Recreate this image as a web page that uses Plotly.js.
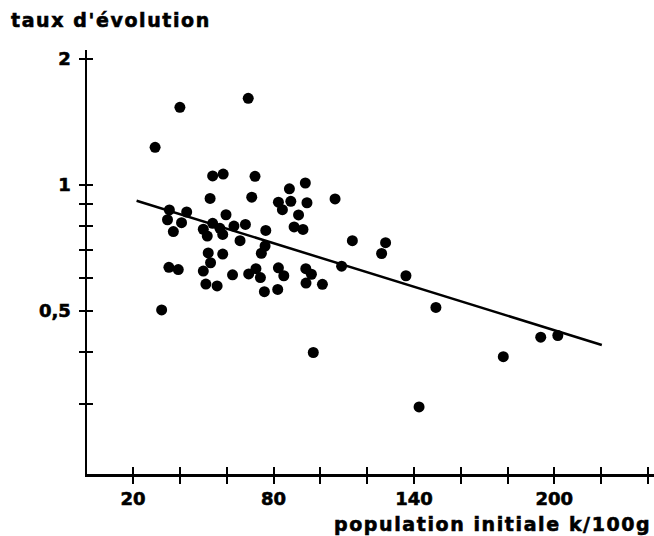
<!DOCTYPE html>
<html>
<head>
<meta charset="utf-8">
<script src="https://cdn.plot.ly/plotly-3.0.1.min.js"></script>
<style>
html,body{margin:0;padding:0;background:#fff;}
.annotation-text{letter-spacing:1.6px;}
.xtick text, .ytick text, .annotation-text{stroke:#000;stroke-width:0.6px;}
</style>
</head>
<body>
<div id="chart" style="width:654px;height:536px;"></div>
<script>
// Scatter points: initial population (k/100 g) vs. rate of change (taux d'évolution)
const popInitiale = [69.2, 40.0, 29.4, 54.0, 58.5, 72.1, 86.8, 93.6, 106.3, 52.9,
  70.7, 82.1, 87.4, 83.8, 94.3, 90.7, 88.8, 92.6, 35.5, 42.9,
  34.7, 40.7, 37.2, 59.7, 50.0, 54.0, 51.7, 57.1, 58.3, 63.1,
  68.0, 65.7, 76.7, 76.4, 74.8, 52.1, 58.3, 53.1, 50.0, 35.3,
  39.3, 62.5, 69.4, 72.5, 74.4, 82.1, 84.4, 93.8, 96.2, 93.9,
  100.9, 76.1, 81.8, 51.1, 55.9, 32.2, 113.7, 127.9, 126.2, 109.1,
  136.6, 149.4, 97.0, 142.2, 178.2, 194.2, 201.5];
const tauxEvolution = [1.611, 1.533, 1.230, 1.051, 1.062, 1.049, 0.979, 1.011, 0.926, 0.929,
  0.935, 0.910, 0.914, 0.873, 0.907, 0.848, 0.794, 0.783, 0.872, 0.862,
  0.826, 0.813, 0.774, 0.849, 0.784, 0.810, 0.755, 0.788, 0.762, 0.798,
  0.805, 0.736, 0.779, 0.715, 0.687, 0.688, 0.684, 0.652, 0.623, 0.636,
  0.628, 0.610, 0.613, 0.631, 0.601, 0.634, 0.607, 0.631, 0.612, 0.583,
  0.579, 0.556, 0.563, 0.580, 0.574, 0.503, 0.736, 0.728, 0.686, 0.640,
  0.607, 0.510, 0.398, 0.295, 0.389, 0.433, 0.437];
// Regression line end points
const droiteX = [21.5, 220.3];
const droiteY = [0.917, 0.4147];
// Axis ticks
const xTickVals = [20, 40, 60, 80, 100, 120, 140, 160, 180, 200, 220, 240];
const xTickText = ['20', '', '', '80', '', '', '140', '', '', '200', '', ''];
const yTickVals = [0.3, 0.4, 0.5, 0.6, 0.7, 0.8, 0.9, 1, 2];
const yTickText = ['', '', '0,5', '', '', '', '', '1', '2'];

const FONT = 'DejaVu Sans';
const xRange = [0.3, 242.6];
const yRange = [-0.6904, 0.3225];
const bold = t => (t ? '<b>' + t + '</b>' : '');

const traces = [
  {x: popInitiale, y: tauxEvolution, mode: 'markers', type: 'scatter',
   marker: {color: '#000', size: 11}, showlegend: false, hoverinfo: 'skip'},
  {x: droiteX, y: droiteY, mode: 'lines', type: 'scatter',
   line: {color: '#000', width: 2.5}, showlegend: false, hoverinfo: 'skip'},
  {x: [], y: [], xaxis: 'x2', yaxis: 'y2', type: 'scatter', mode: 'markers', showlegend: false}
];

const tickFont = {family: FONT, size: 18, color: '#000'};

const layout = {
  width: 654, height: 536,
  margin: {l: 87, r: 0, t: 50, b: 62},
  paper_bgcolor: '#fff', plot_bgcolor: '#fff',
  font: {family: FONT, color: '#000', size: 18},
  xaxis: {range: xRange, showgrid: false, zeroline: false,
    showline: true, linecolor: '#000', linewidth: 2.5,
    ticks: 'outside', ticklen: 7, tickwidth: 2, tickcolor: '#000',
    tickvals: xTickVals, ticktext: xTickText.map(bold), ticklabelstandoff: 0,
    tickfont: tickFont},
  yaxis: {type: 'log', range: yRange, showgrid: false, zeroline: false,
    showline: true, linecolor: '#000', linewidth: 2.5,
    ticks: 'outside', ticklen: 6, tickwidth: 2, tickcolor: '#000',
    tickvals: yTickVals, ticktext: yTickText.map(bold), ticklabelstandoff: 4,
    tickfont: tickFont},
  xaxis2: {range: xRange, overlaying: 'x', anchor: 'y2', showgrid: false, zeroline: false,
    showline: false, ticks: 'inside', ticklen: 7, tickwidth: 2, tickcolor: '#000',
    tickvals: xTickVals, showticklabels: false},
  yaxis2: {type: 'log', range: yRange, overlaying: 'y', anchor: 'x2', showgrid: false, zeroline: false,
    showline: false, ticks: 'inside', ticklen: 6, tickwidth: 2, tickcolor: '#000',
    tickvals: yTickVals, showticklabels: false},
  annotations: [
    {text: "<b>taux d'évolution</b>", xref: 'paper', yref: 'paper',
     x: (9 - 87) / 567, y: (474 - 20) / 424, xanchor: 'left', yanchor: 'middle',
     showarrow: false, font: {family: FONT, size: 19, color: '#000'}},
    {text: '<b>population initiale k/100g</b>', xref: 'paper', yref: 'paper',
     x: (653 - 87) / 567, y: (474 - 524) / 424, xanchor: 'right', yanchor: 'middle',
     showarrow: false, font: {family: FONT, size: 19, color: '#000'}}
  ]
};

Plotly.newPlot('chart', traces, layout, {staticPlot: true, displayModeBar: false});
</script>
</body>
</html>
